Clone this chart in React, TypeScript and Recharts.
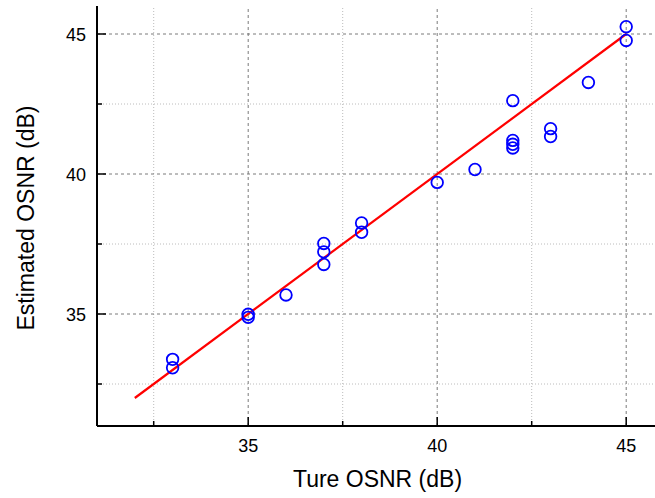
import React from 'react';
import { ComposedChart, Scatter, XAxis, YAxis, ReferenceLine, Label } from 'recharts';

const trueOsnr = [33, 33, 35, 35, 36, 37, 37, 37, 38, 38, 40, 41, 42, 42, 42, 42, 43, 43, 44, 45, 45];
const estOsnr = [33.38, 33.08, 34.99, 34.88, 35.68, 37.52, 37.22, 36.77, 38.25, 37.92, 39.7, 40.16, 42.62, 41.2, 41.06, 40.93, 41.62, 41.34, 43.27, 45.26, 44.77];
const fitX = [32, 45];
const fitY = [32, 45];
const majorTicks = [35, 40, 45];
const minorTicks = [32.5, 37.5, 42.5];
const allTicks = [32.5, 35, 37.5, 40, 42.5, 45];
const topTicks = [32, 33, 34, 35, 36, 37, 38, 39, 40, 41, 42, 43, 44, 45];
const xTitle = 'Ture OSNR (dB)';
const yTitle = 'Estimated OSNR (dB)';

const points = trueOsnr.map((x, i) => ({ x, y: estOsnr[i] }));
const fitLine = fitX.map((x, i) => ({ x, y: fitY[i] }));

const FONT = '"Liberation Sans", Arial, sans-serif';

const XTick = (props: any) => {
  const { x, y, payload } = props;
  const major = majorTicks.includes(payload.value);
  return (
    <g>
      <line x1={x} x2={x} y1={y} y2={y - (major ? 9 : 5)} stroke="#000" strokeWidth={1.5} />
      {major && (
        <text x={x} y={y + 26} textAnchor="middle" fontSize={18} fontFamily={FONT} fill="#000">
          {payload.value}
        </text>
      )}
    </g>
  );
};

const YTick = (props: any) => {
  const { x, y, payload } = props;
  const major = majorTicks.includes(payload.value);
  return (
    <g>
      <line x1={x} x2={x + (major ? 9 : 5)} y1={y} y2={y} stroke="#000" strokeWidth={1.5} />
      {major && (
        <text x={x - 11} y={y + 6.5} textAnchor="end" fontSize={18} fontFamily={FONT} fill="#000">
          {payload.value}
        </text>
      )}
    </g>
  );
};

const TopTick = (props: any) => {
  const { x, y } = props;
  return <line x1={x} x2={x} y1={y} y2={y + 5} stroke="#000" strokeWidth={1.5} />;
};

const Circle = (props: any) => {
  const { cx, cy } = props;
  return <circle cx={cx} cy={cy} r={5.8} stroke="#0000ff" strokeWidth={1.8} fill="none" />;
};

const NoShape = () => <g />;

export default function App() {
  return (
    <div style={{ position: 'fixed', left: 0, top: 0, width: 655, height: 498, overflow: 'hidden', background: '#fff' }}>
      <ComposedChart width={680} height={498} margin={{ top: 6, right: 16, left: 0, bottom: 0 }}>
        <XAxis
          xAxisId="bottom"
          dataKey="x"
          type="number"
          domain={[31, 46]}
          ticks={allTicks}
          interval={0}
          allowDataOverflow
          height={72}
          tickSize={0}
          tickMargin={0}
          tickLine={false}
          tick={<XTick />}
          axisLine={{ stroke: '#000', strokeWidth: 2 }}
        >
          <Label
            content={(p: any) => {
              const vb = p.viewBox;
              return (
                <text x={vb.x + vb.width / 2 - 3} y={vb.y + 61} textAnchor="middle" fontSize={23} fontFamily={FONT} fill="#000">
                  {xTitle}
                </text>
              );
            }}
          />
        </XAxis>
        <XAxis
          xAxisId="top"
          orientation="top"
          dataKey="x"
          type="number"
          domain={[31, 46]}
          ticks={topTicks}
          interval={0}
          allowDataOverflow
          height={0}
          tickSize={0}
          tickMargin={0}
          tickLine={false}
          tick={<TopTick />}
          axisLine={{ stroke: '#000', strokeWidth: 2 }}
        />
        <YAxis
          yAxisId="left"
          dataKey="y"
          type="number"
          domain={[31, 46]}
          ticks={allTicks}
          interval={0}
          allowDataOverflow
          width={97}
          tickSize={0}
          tickMargin={0}
          tickLine={false}
          tick={<YTick />}
          axisLine={{ stroke: '#000', strokeWidth: 2 }}
        >
          <Label
            content={(p: any) => {
              const vb = p.viewBox;
              const cx = vb.x + 34;
              const cy = vb.y + vb.height / 2 + 2;
              return (
                <text x={cx} y={cy} textAnchor="middle" fontSize={23} fontFamily={FONT} fill="#000" transform={`rotate(-90 ${cx} ${cy})`}>
                  {yTitle}
                </text>
              );
            }}
          />
        </YAxis>
        {minorTicks.map((v) => (
          <ReferenceLine key={'mx' + v} x={v} xAxisId="bottom" yAxisId="left" stroke="#bcbcbc" strokeWidth={1} strokeDasharray="1 2" />
        ))}
        {minorTicks.map((v) => (
          <ReferenceLine key={'my' + v} y={v} xAxisId="bottom" yAxisId="left" stroke="#bcbcbc" strokeWidth={1} strokeDasharray="1 2" />
        ))}
        {majorTicks.map((v) => (
          <ReferenceLine key={'Mx' + v} x={v} xAxisId="bottom" yAxisId="left" stroke="#7a7a7a" strokeWidth={1} strokeDasharray="3 3" />
        ))}
        {majorTicks.map((v) => (
          <ReferenceLine key={'My' + v} y={v} xAxisId="bottom" yAxisId="left" stroke="#7a7a7a" strokeWidth={1} strokeDasharray="3 3" />
        ))}
        <Scatter
          data={fitLine}
          xAxisId="bottom"
          yAxisId="left"
          line={{ stroke: '#ff0000', strokeWidth: 2.2 }}
          shape={<NoShape />}
          isAnimationActive={false}
        />
        <Scatter data={points} xAxisId="bottom" yAxisId="left" shape={<Circle />} isAnimationActive={false} />
      </ComposedChart>
    </div>
  );
}
